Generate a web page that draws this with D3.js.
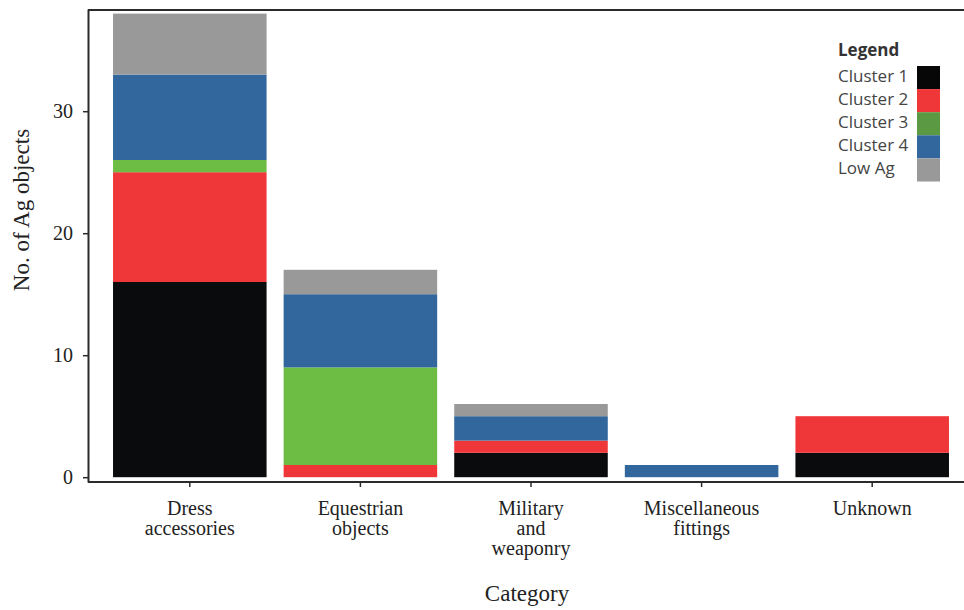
<!DOCTYPE html>
<html>
<head>
<meta charset="utf-8">
<script src="https://cdn.jsdelivr.net/npm/d3@7"></script>
<style>
  html, body { margin: 0; padding: 0; background: #fff; }
  svg { display: block; }
</style>
</head>
<body>
<svg id="chart" width="964" height="610"></svg>
<script>
// Categories (label lines for the x axis)
const categories = ["Dress accessories", "Equestrian objects", "Military and weaponry", "Miscellaneous fittings", "Unknown"];
const categoryLines = [["Dress", "accessories"], ["Equestrian", "objects"], ["Military", "and", "weaponry"], ["Miscellaneous", "fittings"], ["Unknown"]];

// Series, stacked bottom to top
const seriesNames = ["Cluster 1", "Cluster 2", "Cluster 3", "Cluster 4", "Low Ag"];
const cluster1 = [16, 0, 2, 0, 2];
const cluster2 = [9, 1, 1, 0, 3];
const cluster3 = [1, 8, 0, 0, 0];
const cluster4 = [7, 6, 2, 1, 0];
const lowAg    = [5, 2, 1, 0, 0];

const yTicks = [0, 10, 20, 30];

const barColors    = ["#0a0b0d", "#ef3739", "#6dbd45", "#31679c", "#999999"];
const legendColors = ["#070707", "#ef3739", "#5b9a42", "#31679c", "#999999"];

const seriesValues = [cluster1, cluster2, cluster3, cluster4, lowAg];
const rows = categories.map((c, i) => {
  const r = { category: c };
  seriesNames.forEach((s, j) => { r[s] = seriesValues[j][i]; });
  return r;
});

const serif = "'Liberation Serif', 'DejaVu Serif', serif";
const sans = "'Open Sans', 'Noto Sans', sans-serif";

const svg = d3.select("#chart");

const x = d3.scaleBand()
  .domain(categories)
  .range([104.5, 957.5])
  .paddingInner(0.1)
  .paddingOuter(0.05);

const y = d3.scaleLinear()
  .domain([0, 10])
  .range([477.2, 355.2]);

const stack = d3.stack().keys(seriesNames);
const layers = stack(rows);

// Stacked bars
svg.append("g")
  .selectAll("g")
  .data(layers)
  .join("g")
  .attr("fill", (d, i) => barColors[i])
  .selectAll("rect")
  .data(d => d)
  .join("rect")
  .attr("x", d => x(d.data.category))
  .attr("width", x.bandwidth())
  .attr("y", d => y(d[1]))
  .attr("height", d => y(d[0]) - y(d[1]));

const axisColor = "#2b2b2b";

// Frame lines: left axis, top edge, bottom axis
svg.append("line")
  .attr("x1", 88.5).attr("x2", 88.5).attr("y1", 9.5).attr("y2", 482.5)
  .attr("stroke", axisColor).attr("stroke-width", 2);
svg.append("line")
  .attr("x1", 88).attr("x2", 964).attr("y1", 10).attr("y2", 10)
  .attr("stroke", axisColor).attr("stroke-width", 2);
svg.append("line")
  .attr("x1", 88).attr("x2", 964).attr("y1", 482).attr("y2", 482)
  .attr("stroke", axisColor).attr("stroke-width", 2);

// Y axis
const yAxis = d3.axisLeft(y).tickValues(yTicks).tickSize(5).tickPadding(10);
const gy = svg.append("g").attr("transform", "translate(88,0)").call(yAxis);
gy.select(".domain").remove();
gy.selectAll(".tick line").attr("stroke", axisColor).attr("stroke-width", 1.5);
gy.selectAll(".tick text")
  .attr("font-family", serif)
  .attr("font-size", 20)
  .attr("fill", "#222");

// X axis
const xAxis = d3.axisBottom(x).tickSize(5).tickFormat("");
const gx = svg.append("g").attr("transform", "translate(0,482)").call(xAxis);
gx.select(".domain").remove();
gx.selectAll(".tick line").attr("stroke", axisColor).attr("stroke-width", 1.5);

// Multi-line category labels
svg.append("g")
  .selectAll("text")
  .data(categories)
  .join("text")
  .attr("x", d => x(d) + x.bandwidth() / 2)
  .attr("y", 515)
  .attr("text-anchor", "middle")
  .attr("font-family", serif)
  .attr("font-size", 20)
  .attr("fill", "#222")
  .each(function(d, i) {
    d3.select(this).selectAll("tspan")
      .data(categoryLines[i])
      .join("tspan")
      .attr("x", x(d) + x.bandwidth() / 2)
      .attr("dy", (t, k) => k === 0 ? 0 : 20)
      .text(t => t);
  });

// Axis titles
svg.append("text")
  .attr("x", 527).attr("y", 601)
  .attr("text-anchor", "middle")
  .attr("font-family", serif)
  .attr("font-size", 23)
  .attr("fill", "#222")
  .text("Category");

svg.append("text")
  .attr("transform", "translate(29,210) rotate(-90)")
  .attr("text-anchor", "middle")
  .attr("font-family", serif)
  .attr("font-size", 23)
  .attr("fill", "#222")
  .text("No. of Ag objects");

// Legend
const legend = svg.append("g").attr("transform", "translate(838,0)");
legend.append("text")
  .attr("x", 0).attr("y", 56)
  .attr("font-family", sans)
  .attr("font-weight", "bold")
  .attr("font-size", 17)
  .attr("fill", "#333")
  .text("Legend");

const legendRow = 23.1;
const legendItems = legend.selectAll("g.item")
  .data(seriesNames)
  .join("g")
  .attr("class", "item")
  .attr("transform", (d, i) => `translate(0,${66 + i * legendRow})`);

legendItems.append("rect")
  .attr("x", 79).attr("y", 0)
  .attr("width", 23).attr("height", legendRow)
  .attr("fill", (d, i) => legendColors[i]);

legendItems.append("text")
  .attr("x", 0).attr("y", 16)
  .attr("font-family", sans)
  .attr("font-size", 17)
  .attr("fill", "#444")
  .text(d => d);
</script>
</body>
</html>
